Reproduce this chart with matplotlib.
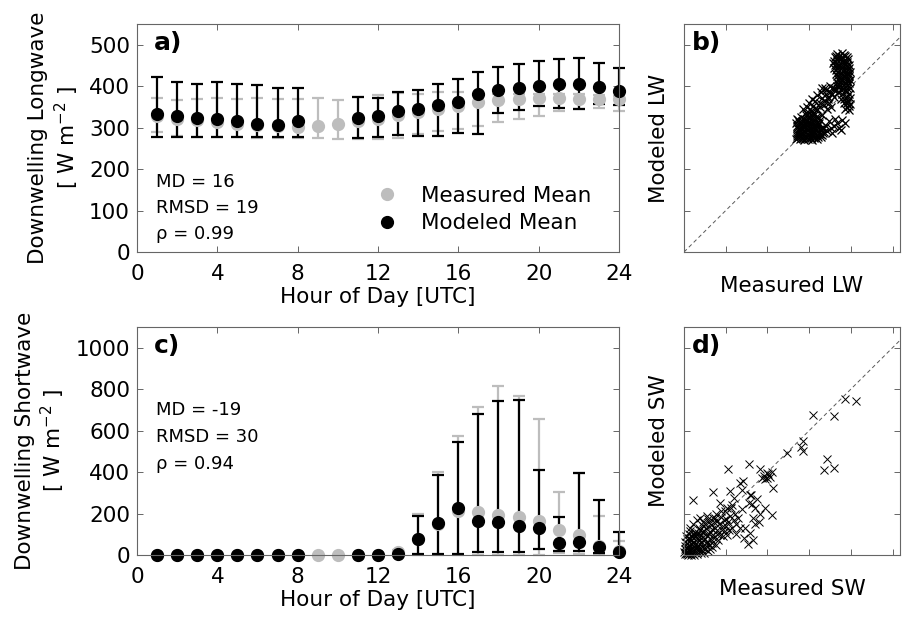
import numpy as np
import matplotlib
matplotlib.use('Agg')
import matplotlib.pyplot as plt
from matplotlib.lines import Line2D

plt.rcParams['font.family'] = ['DejaVu Sans']
plt.rcParams['mathtext.default'] = 'regular'

nan = np.nan
hours = np.arange(1, 25)

# hourly downwelling longwave [W m-2]
lw_meas = [327, 321, 318, 313, 309, 307, 305, 302, 303, 309, 317, 321,
           331, 338, 345, 352, 362, 366, 370, 371, 371, 370, 370, 368]
lw_meas_lo = [289, 280, 277, 277, 277, 276, 276, 276, 276, 272, 272, 273,
              275, 285, 292, 297, 305, 313, 320, 329, 340, 345, 348, 341]
lw_meas_hi = [372, 366, 370, 372, 370, 372, 370, 368, 372, 366, 375, 378,
              383, 380, 385, 385, 382, 382, 382, 380, 380, 380, 378, 376]
lw_mod = [333, 328, 324, 320, 315, 309, 307, 315, nan, nan, 324, 328,
          339, 346, 355, 363, 381, 392, 396, 401, 405, 405, 399, 389]
lw_mod_lo = [277, 277, 277, 277, 277, 278, 278, 278, nan, nan, 276, 277,
             283, 279, 280, 286, 285, 336, 342, 352, 348, 346, 358, 354]
lw_mod_hi = [423, 410, 405, 410, 405, 402, 395, 395, nan, nan, 374, 372,
             385, 390, 406, 417, 434, 447, 453, 460, 466, 467, 455, 443]

# hourly downwelling shortwave [W m-2]
sw_meas = [0, 0, 0, 0, 0, 0, 0, 0, 0, 0, 0, 0,
           15, 75, 150, 212, 208, 194, 182, 164, 120, 96, 45, 20]
sw_meas_lo = [0, 0, 0, 0, 0, 0, 0, 0, 0, 0, 0, 0,
              0, 0, 0, 0, 0, 0, 0, 0, 8, 5, 0, 0]
sw_meas_hi = [0, 0, 0, 0, 0, 0, 0, 0, 0, 0, 0, 0,
              25, 197, 400, 573, 713, 815, 765, 657, 302, 398, 186, 68]
sw_mod = [0, 0, 0, 0, 0, 0, 0, 0, nan, nan, 0, 0,
          3, 77, 156, 225, 166, 158, 142, 129, 56, 61, 38, 13]
sw_mod_lo = [0, 0, 0, 0, 0, 0, 0, 0, nan, nan, 0, 0,
             0, 3, 5, 3, 13, 13, 15, 30, 20, 18, 8, 0]
sw_mod_hi = [0, 0, 0, 0, 0, 0, 0, 0, nan, nan, 0, 0,
             5, 186, 385, 546, 682, 742, 750, 410, 181, 397, 267, 109]

# individual samples, measured vs modeled longwave
lw_x = [268, 272, 275, 270, 268, 273, 278, 280, 283, 279, 282, 287, 288, 290,
        292, 289, 293, 296, 298, 300, 302, 299, 304, 306, 308, 310, 312, 309,
        314, 316, 318, 320, 322, 319, 324, 285, 295, 305, 315, 276, 286, 296,
        306, 271, 281, 291, 301, 311, 326, 330,
        270, 274, 277, 272, 275, 281, 284, 286, 284, 290, 291, 294, 297, 295,
        298, 301, 303, 306, 302, 307, 311, 313, 316, 312, 317, 321, 323, 326,
        322, 328, 332, 336, 270, 280, 292, 300, 316, 326, 334, 278,
        292, 296, 300, 285, 305, 310, 315, 320, 325, 330, 335, 340, 345, 350,
        355, 360, 338, 328, 318, 308, 348, 365, 370, 375, 342, 352, 332, 312,
        322, 302, 298, 306, 315, 325, 335, 345, 355, 360, 350, 340, 330,
        334, 344, 352, 360, 368, 372, 378, 385, 362, 356, 348, 340, 376,
        362, 366, 372, 378, 384, 390, 360, 368, 376, 385, 392, 362, 370, 380,
        388, 395, 364, 372, 382, 390, 396, 366, 375, 384, 392, 398, 368, 378,
        386, 394, 398, 372, 382, 390, 396, 380, 388, 394, 398, 384, 390, 396,
        386, 376, 370,
        364, 370, 380, 387, 393, 358, 366, 374, 383, 390, 396, 360, 368, 378,
        386, 393, 398, 364, 372, 380, 388, 395, 370, 380, 390, 396, 374, 384,
        392, 386, 392, 384, 390, 396, 398, 376, 366, 360]
lw_y = [272, 280, 290, 300, 310, 318, 272, 284, 296, 306, 315, 322, 271, 280,
        290, 301, 309, 318, 272, 282, 292, 300, 310, 320, 271, 280, 290, 298,
        306, 316, 272, 282, 292, 302, 312, 275, 277, 276, 277, 296, 288, 300,
        286, 285, 300, 312, 325, 330, 285, 300,
        276, 286, 294, 305, 314, 276, 290, 304, 312, 318, 276, 285, 295, 306,
        314, 277, 287, 297, 306, 315, 276, 285, 295, 303, 311, 277, 288, 296,
        306, 278, 283, 290, 320, 326, 330, 335, 325, 318, 300, 310,
        335, 350, 360, 345, 340, 352, 365, 345, 360, 372, 355, 380, 370, 385,
        395, 375, 395, 385, 378, 370, 360, 392, 405, 410, 345, 350, 330, 335,
        325, 345, 325, 330, 345, 350, 365, 375, 380, 395, 400, 390, 395,
        286, 292, 300, 305, 310, 300, 318, 312, 320, 288, 315, 305, 295,
        470, 478, 474, 480, 476, 470, 460, 462, 465, 462, 458, 450, 448, 452,
        448, 445, 438, 440, 436, 432, 430, 425, 422, 425, 420, 415, 410, 412,
        408, 402, 395, 398, 394, 388, 380, 380, 372, 365, 358, 360, 350, 342,
        345, 370, 385,
        474, 468, 470, 473, 466, 455, 455, 457, 456, 452, 450, 443, 444, 444,
        440, 438, 435, 430, 430, 428, 426, 425, 417, 418, 414, 408, 404, 402,
        396, 388, 375, 370, 360, 352, 372, 392, 400, 390]

# individual samples, measured vs modeled shortwave
sw_x = [5, 15, 25, 10, 30, 40, 20, 45, 55, 60, 35, 70, 75, 50, 85, 90, 65,
        100, 105, 15, 25, 40, 80, 110, 120, 5, 95, 60, 130, 10, 0, 20, 50, 80,
        115, 135, 140, 125, 95, 55, 30, 70,
        8, 18, 28, 38, 48, 58, 68, 12, 22, 32, 42, 52, 62, 72, 82, 92, 102,
        112, 118, 88, 78, 66, 46, 36, 26, 16, 6, 3, 14, 34, 44, 64, 74, 84,
        104, 124, 134, 145, 155, 160, 172, 185, 195, 150, 135, 105, 90, 115,
        200, 175, 160,
        150, 160, 170, 180, 190, 200, 145, 175, 210, 220, 230, 240, 185, 165,
        205, 250, 130, 155, 195, 225, 245, 260, 140, 120, 215, 100, 110, 90,
        60, 45, 30, 75,
        770, 826, 621, 717, 573, 573, 560, 493, 669, 685, 720, 405, 397, 385,
        410, 400, 420, 375, 390, 314, 210, 282, 322, 365, 426, 141, 45, 421,
        389, 341, 324, 317, 269, 277, 221, 240, 173, 205, 365, 317, 309, 333,
        293, 290, 340, 330, 360, 270, 250, 280, 310, 350, 230]
sw_y = [5, 10, 5, 25, 20, 10, 40, 35, 15, 40, 55, 25, 55, 65, 40, 70, 80,
        30, 60, 60, 80, 90, 95, 90, 50, 45, 10, 5, 75, 90, 15, 0, 0, 10, 20,
        40, 95, 110, 115, 110, 115, 130,
        12, 22, 30, 18, 45, 28, 50, 35, 50, 70, 60, 85, 95, 70, 60, 85, 75,
        65, 100, 110, 120, 105, 100, 85, 100, 75, 65, 30, 3, 2, 25, 15, 35, 25,
        45, 30, 60, 80, 50, 120, 95, 140, 115, 180, 125, 130, 160, 175,
        175, 210, 165,
        130, 100, 150, 120, 170, 140, 160, 185, 160, 190, 130, 170, 90, 70,
        95, 150, 145, 200, 210, 225, 200, 180, 180, 160, 120, 150, 190, 140,
        170, 150, 130, 180,
        751, 742, 677, 673, 551, 503, 520, 490, 410, 462, 421, 389, 395, 380,
        375, 370, 400, 372, 365, 441, 413, 356, 291, 413, 324, 304, 267, 194,
        226, 226, 247, 291, 348, 315, 307, 275, 250, 226, 197, 104, 55, 72,
        128, 80, 150, 180, 160, 130, 100, 220, 250, 270, 240]

gray = '#bdbdbd'
frame = '0.4'
tick_fs = 15.5


def style_axes(ax):
    for s in ax.spines.values():
        s.set_color(frame)
        s.set_linewidth(0.8)
    ax.tick_params(direction='in', top=True, right=True, length=4, width=0.7,
                   color=frame, labelsize=tick_fs, labelcolor='black')
    ax.tick_params(axis='x', pad=9)
    ax.tick_params(axis='y', pad=5)


def hourly_panel(ax, series):
    for mean, lo, hi, color in series:
        mean = np.asarray(mean, float)
        err = [mean - np.asarray(lo, float), np.asarray(hi, float) - mean]
        eb = ax.errorbar(hours, mean, yerr=err, fmt='o', color=color, mec=color,
                         ms=8.5, elinewidth=1.6, capsize=4.5, capthick=1.6)
        eb.lines[0].set_clip_on(False)
        for art in eb.lines[1] + eb.lines[2]:
            art.set_clip_on(False)
    ax.set_xlim(0, 24)
    ax.set_xticks(range(0, 25, 4))
    ax.set_xlabel('Hour of Day [UTC]', fontsize=tick_fs, labelpad=2)


def stats_text(ax, lines, ys):
    for txt, y in zip(lines, ys):
        ax.text(0.04, y, txt, transform=ax.transAxes, fontsize=13,
                ha='left', va='center')


def scatter_panel(ax, x, y, xmax, ymax, step, xlabel, ylabel, mew):
    ax.axline((0, 0), slope=1, color='0.35', lw=0.7, ls=(0, (4, 3)))
    ax.plot(x, y, 'x', color='black', ms=5.8, mew=mew, clip_on=False)
    ax.set_xlim(0, xmax)
    ax.set_ylim(0, ymax)
    ax.set_xticks(np.arange(0, xmax, step))
    ax.set_yticks(np.arange(0, ymax, step))
    ax.set_xticklabels([])
    ax.set_yticklabels([])
    ax.set_xlabel(xlabel, fontsize=tick_fs, labelpad=8)
    ax.set_ylabel(ylabel, fontsize=tick_fs, labelpad=6)


fig = plt.figure(figsize=(9.06, 6.19), dpi=100)
ax_a = fig.add_axes([0.1512, 0.5929, 0.532, 0.3683])
ax_b = fig.add_axes([0.755, 0.5929, 0.2384, 0.3683])
ax_c = fig.add_axes([0.1512, 0.1034, 0.532, 0.3683])
ax_d = fig.add_axes([0.755, 0.1034, 0.2384, 0.3683])

# a) longwave diurnal cycle
hourly_panel(ax_a, [(lw_meas, lw_meas_lo, lw_meas_hi, gray),
                    (lw_mod, lw_mod_lo, lw_mod_hi, 'black')])
ax_a.set_ylim(0, 550)
ax_a.set_yticks(range(0, 501, 100))
ax_a.set_ylabel('Downwelling Longwave\n[ W m$^{-2}$ ]', fontsize=tick_fs, labelpad=6)
stats_text(ax_a, ['MD = 16', 'RMSD = 19', 'ρ = 0.99'], [0.307, 0.193, 0.079])
handles = [Line2D([], [], ls='none', marker='o', color=gray, ms=8.5),
           Line2D([], [], ls='none', marker='o', color='black', ms=8.5)]
ax_a.legend(handles, ['Measured Mean', 'Modeled Mean'], loc='center left',
            bbox_to_anchor=(0.5, 0.186), frameon=False, fontsize=tick_fs,
            borderpad=0, borderaxespad=0, handlelength=0.8, handletextpad=1.2,
            labelspacing=0.35)

# c) shortwave diurnal cycle
hourly_panel(ax_c, [(sw_meas, sw_meas_lo, sw_meas_hi, gray),
                    (sw_mod, sw_mod_lo, sw_mod_hi, 'black')])
ax_c.set_ylim(0, 1100)
ax_c.set_yticks(range(0, 1001, 200))
ax_c.set_ylabel('Downwelling Shortwave\n[ W m$^{-2}$ ]', fontsize=tick_fs, labelpad=6)
stats_text(ax_c, ['MD = -19', 'RMSD = 30', 'ρ = 0.94'], [0.636, 0.518, 0.399])

# b), d) scatter of all samples
scatter_panel(ax_b, lw_x, lw_y, 518, 550, 100, 'Measured LW', 'Modeled LW', 0.9)
scatter_panel(ax_d, sw_x, sw_y, 1036, 1100, 200, 'Measured SW', 'Modeled SW', 0.7)

for ax, lab in zip([ax_a, ax_b, ax_c, ax_d], ['a)', 'b)', 'c)', 'd)']):
    style_axes(ax)
    ax.text(0.035, 0.97, lab, transform=ax.transAxes, fontsize=18,
            fontweight='bold', ha='left', va='top')

fig.savefig('out.png', dpi=100)
